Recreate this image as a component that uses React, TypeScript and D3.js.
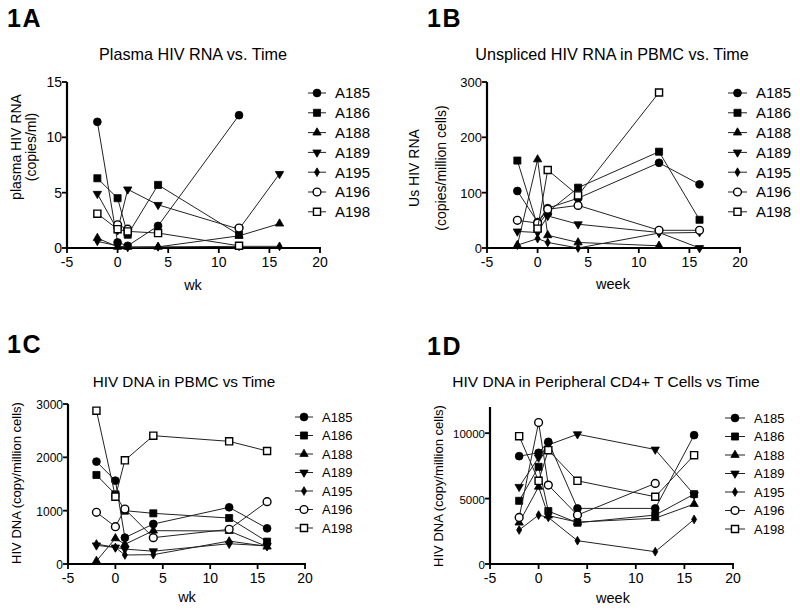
import React from "react";
import * as d3 from "d3";

const weeks = [-2, 0, 1, 4, 12, 16];
const subjects = ["A185", "A186", "A188", "A189", "A195", "A196", "A198"];
const xTicks = [-5, 0, 5, 10, 15, 20];

type V = number | null;

// 1A plasma HIV RNA (copies/ml)
const plasmaA185: V[] = [11.4, 0.5, 0.2, 2.0, 12.0, null];
const plasmaA186: V[] = [6.3, 4.5, 1.2, 5.7, 1.2, null];
const plasmaA188: V[] = [0.9, 0.1, 0.1, 0.1, 1.1, 2.2];
const plasmaA189: V[] = [4.9, 1.6, 5.3, 3.9, 1.7, 6.7];
const plasmaA195: V[] = [0.6, 0.2, 0.05, 0.1, 0.15, 0.15];
const plasmaA196: V[] = [null, 2.1, 1.7, null, 1.8, null];
const plasmaA198: V[] = [3.1, 1.7, 1.5, 1.35, 0.2, null];

// 1B unspliced HIV RNA (copies/million cells)
const usA185: V[] = [103, 47, 72, 90, 154, 115];
const usA186: V[] = [158, 40, 65, 109, 174, 51];
const usA188: V[] = [5, 160, 23, 10, 4, null];
const usA189: V[] = [30, 28, 58, 43, 28, 0];
const usA195: V[] = [5, 17, 10, 0, 27, 28];
const usA196: V[] = [50, 45, 70, 77, 32, 32];
const usA198: V[] = [null, 35, 141, 95, 281, null];

// 1C HIV DNA in PBMC (copy/million cells)
const pbmcA185: V[] = [1920, 1563, 494, 750, 1063, 669];
const pbmcA186: V[] = [1669, 1306, 1000, 950, 862, 419];
const pbmcA188: V[] = [56, 481, 369, 625, 619, 325];
const pbmcA189: V[] = [350, 310, 280, 240, 380, 340];
const pbmcA195: V[] = [375, 310, 169, 175, 430, 330];
const pbmcA196: V[] = [969, 700, 1030, 494, 650, 1169];
const pbmcA198: V[] = [2875, 1263, 1944, 2406, 2300, 2119];

// 1D HIV DNA in CD4+ T cells (copy/million cells)
const cd4A185: V[] = [8244, 8500, 9340, 4250, 4250, 9850];
const cd4A186: V[] = [4830, 7430, 4045, 3155, 3740, 5340];
const cd4A188: V[] = [3160, 5900, 3700, 3200, 3500, 4580];
const cd4A189: V[] = [5900, 8140, 9100, 9920, 8750, 5300];
const cd4A195: V[] = [2600, 3740, 3560, 1780, 940, 3410];
const cd4A196: V[] = [3560, 10810, 6030, 3740, 6160, null];
const cd4A198: V[] = [9770, 6360, 8700, 6360, 5140, 8320];

const FONT = "'Liberation Sans', Arial, Helvetica, sans-serif";

const markers = [
  { sym: d3.symbolCircle, size: 48, filled: true, rot: 0 },
  { sym: d3.symbolSquare, size: 50, filled: true, rot: 0 },
  { sym: d3.symbolTriangle, size: 30, filled: true, rot: 0 },
  { sym: d3.symbolTriangle, size: 30, filled: true, rot: 180 },
  { sym: d3.symbolDiamond, size: 22, filled: true, rot: 0 },
  { sym: d3.symbolCircle, size: 48, filled: false, rot: 0 },
  { sym: d3.symbolSquare, size: 50, filled: false, rot: 0 },
];

type PanelCfg = {
  label: string; labelX: number; labelY: number;
  title: string; titleX: number; titleY: number; titleSize: number;
  x0: number; x1: number; y0: number; y1: number; yMax: number;
  yTicks: number[]; yTickSize: number;
  ylab: string[]; ylabX: number[]; ylabY: number; ylabSize: number;
  xlab: string; xlabX: number; xlabY: number;
  legX: number; legY0: number; legDy: number; legSize: number; legLine: number;
  series: V[][];
};

const panels: PanelCfg[] = [
  {
    label: "1A", labelX: 7, labelY: 27,
    title: "Plasma HIV RNA vs. Time", titleX: 193, titleY: 60, titleSize: 16.2,
    x0: 67, x1: 320, y0: 248, y1: 82, yMax: 15, yTicks: [0, 5, 10, 15], yTickSize: 14,
    ylab: ["plasma HIV RNA", "(copies/ml)"], ylabX: [21, 36], ylabY: 147, ylabSize: 14,
    xlab: "wk", xlabX: 193, xlabY: 290,
    legX: 308, legY0: 93, legDy: 19.8, legSize: 15, legLine: 18,
    series: [plasmaA185, plasmaA186, plasmaA188, plasmaA189, plasmaA195, plasmaA196, plasmaA198],
  },
  {
    label: "1B", labelX: 427, labelY: 27,
    title: "Unspliced HIV RNA in PBMC vs. Time", titleX: 612, titleY: 60, titleSize: 16.2,
    x0: 487, x1: 740, y0: 248, y1: 82, yMax: 300, yTicks: [0, 100, 200, 300], yTickSize: 13,
    ylab: ["Us HIV RNA", "(copies/million cells)"], ylabX: [419, 446], ylabY: 168, ylabSize: 14,
    xlab: "week", xlabX: 613, xlabY: 289,
    legX: 728, legY0: 93, legDy: 19.8, legSize: 15, legLine: 19,
    series: [usA185, usA186, usA188, usA189, usA195, usA196, usA198],
  },
  {
    label: "1C", labelX: 7, labelY: 353,
    title: "HIV DNA in PBMC vs Time", titleX: 184, titleY: 387, titleSize: 15.3,
    x0: 68, x1: 305, y0: 564, y1: 404, yMax: 3000, yTicks: [0, 1000, 2000, 3000], yTickSize: 12,
    ylab: ["HIV DNA (copy/million cells)"], ylabX: [21], ylabY: 483, ylabSize: 13,
    xlab: "wk", xlabX: 187, xlabY: 602,
    legX: 295, legY0: 417, legDy: 18.5, legSize: 13, legLine: 18,
    series: [pbmcA185, pbmcA186, pbmcA188, pbmcA189, pbmcA195, pbmcA196, pbmcA198],
  },
  {
    label: "1D", labelX: 427, labelY: 355,
    title: "HIV DNA in Peripheral CD4+ T Cells vs Time", titleX: 606, titleY: 387, titleSize: 15.5,
    x0: 490, x1: 733, y0: 564, y1: 407, yMax: 12000, yTicks: [0, 5000, 10000], yTickSize: 11.5,
    ylab: ["HIV DNA (copy/million cells)"], ylabX: [443], ylabY: 486, ylabSize: 13,
    xlab: "week", xlabX: 613, xlabY: 603,
    legX: 725, legY0: 418, legDy: 18.5, legSize: 13, legLine: 20,
    series: [cd4A185, cd4A186, cd4A188, cd4A189, cd4A195, cd4A196, cd4A198],
  },
];

function Marker({ i, x, y }: { i: number; x: number; y: number }) {
  const m = markers[i];
  const path = d3.symbol().type(m.sym).size(m.size)() as string;
  return (
    <path
      d={path}
      transform={`translate(${x},${y}) rotate(${m.rot})`}
      fill={m.filled ? "#000" : "#fff"}
      stroke="#000"
      strokeWidth={m.filled ? 0.8 : 1.4}
    />
  );
}

function Panel({ p }: { p: PanelCfg }) {
  const xs = d3.scaleLinear().domain([-5, 20]).range([p.x0, p.x1]);
  const ys = d3.scaleLinear().domain([0, p.yMax]).range([p.y0, p.y1]);
  const line = d3
    .line<[number, V]>()
    .defined((d) => d[1] !== null)
    .x((d) => xs(d[0]))
    .y((d) => ys(d[1] as number));
  return (
    <g fontFamily={FONT} fill="#000">
      <text x={p.labelX} y={p.labelY} fontSize={25} fontWeight="bold" letterSpacing={1.5}>
        {p.label}
      </text>
      <text x={p.titleX} y={p.titleY} fontSize={p.titleSize} textAnchor="middle">
        {p.title}
      </text>
      {p.ylab.map((t, k) => (
        <text
          key={k}
          transform={`translate(${p.ylabX[k]},${p.ylabY}) rotate(-90)`}
          fontSize={p.ylabSize}
          textAnchor="middle"
        >
          {t}
        </text>
      ))}
      <text x={p.xlabX} y={p.xlabY} fontSize={14.5} textAnchor="middle">
        {p.xlab}
      </text>
      {/* axes */}
      <line x1={p.x0} x2={p.x1 + 1} y1={p.y0} y2={p.y0} stroke="#000" strokeWidth={2.2} />
      <line x1={p.x0} x2={p.x0} y1={p.y0 + 1} y2={p.y1} stroke="#000" strokeWidth={2.2} />
      {xTicks.map((t) => (
        <g key={"x" + t}>
          <line x1={xs(t)} x2={xs(t)} y1={p.y0} y2={p.y0 + 5} stroke="#000" strokeWidth={1.8} />
          <text x={xs(t)} y={p.y0 + 19} fontSize={14} textAnchor="middle">
            {t}
          </text>
        </g>
      ))}
      {p.yTicks.map((t) => (
        <g key={"y" + t}>
          <line x1={p.x0 - 5} x2={p.x0} y1={ys(t)} y2={ys(t)} stroke="#000" strokeWidth={1.8} />
          <text x={p.x0 - 5} y={ys(t) + 5} fontSize={p.yTickSize} textAnchor="end">
            {t}
          </text>
        </g>
      ))}
      {/* series */}
      {p.series.map((vals, i) => {
        const pts = weeks.map((w, k) => [w, vals[k]] as [number, V]);
        return (
          <g key={i}>
            <path d={line(pts) as string} fill="none" stroke="#222" strokeWidth={1} />
            {pts
              .filter((d) => d[1] !== null)
              .map((d, k) => (
                <Marker key={k} i={i} x={xs(d[0])} y={ys(d[1] as number)} />
              ))}
          </g>
        );
      })}
      {/* legend */}
      {subjects.map((s, i) => {
        const y = p.legY0 + i * p.legDy;
        return (
          <g key={s}>
            <line x1={p.legX} x2={p.legX + p.legLine} y1={y} y2={y} stroke="#222" strokeWidth={1} />
            <Marker i={i} x={p.legX + p.legLine / 2} y={y} />
            <text x={p.legX + p.legLine + 9} y={y + p.legSize * 0.36} fontSize={p.legSize}>
              {s}
            </text>
          </g>
        );
      })}
    </g>
  );
}

export default function App() {
  return (
    <svg
      width={800}
      height={611}
      style={{ position: "absolute", left: 0, top: 0, background: "#fff" }}
    >
      <rect width={800} height={611} fill="#fff" />
      {panels.map((p) => (
        <Panel key={p.label} p={p} />
      ))}
    </svg>
  );
}
